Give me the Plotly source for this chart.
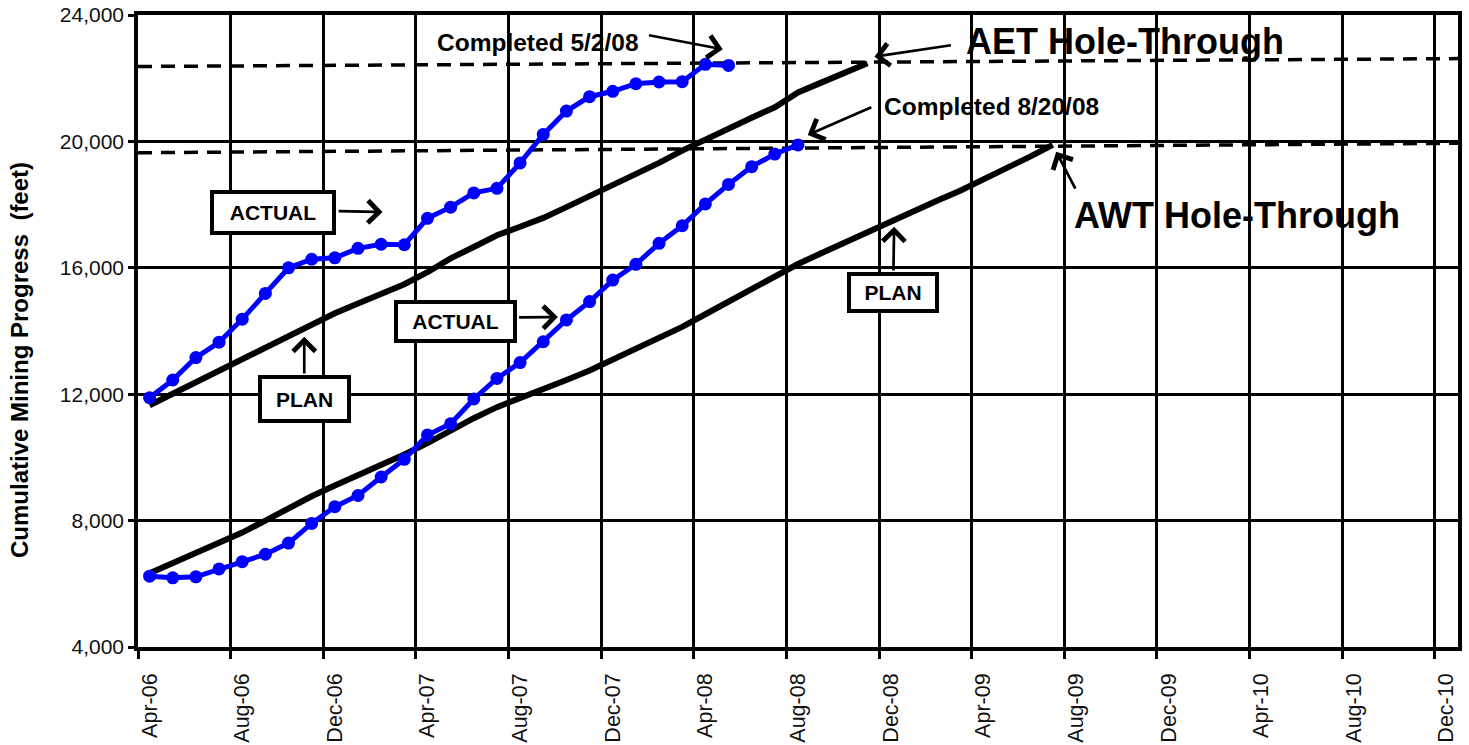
import plotly.graph_objects as go

# ---------------- data ----------------
months = ["Apr-06", "May-06", "Jun-06", "Jul-06", "Aug-06", "Sep-06", "Oct-06", "Nov-06", "Dec-06",
          "Jan-07", "Feb-07", "Mar-07", "Apr-07", "May-07", "Jun-07", "Jul-07", "Aug-07", "Sep-07",
          "Oct-07", "Nov-07", "Dec-07", "Jan-08", "Feb-08", "Mar-08", "Apr-08", "May-08", "Jun-08",
          "Jul-08", "Aug-08", "Sep-08", "Oct-08", "Nov-08", "Dec-08", "Jan-09", "Feb-09", "Mar-09",
          "Apr-09", "May-09", "Jun-09", "Jul-09", "Aug-09", "Sep-09", "Oct-09", "Nov-09", "Dec-09",
          "Jan-10", "Feb-10", "Mar-10", "Apr-10", "May-10", "Jun-10", "Jul-10", "Aug-10", "Sep-10",
          "Oct-10", "Nov-10", "Dec-10"]

# AET (upper) actual and plan, feet
aet_actual = [11890, 12450, 13160, 13645, 14375, 15190, 16000, 16270, 16315, 16615, 16745, 16730,
              17565, 17920, 18370, 18515, 19320, 20220, 20960, 21415, 21585, 21825, 21880, 21890,
              22440, 22405]
aet_plan = [11650, 12020, 12380, 12740, 13100, 13470, 13840, 14200, 14560, 14870, 15170, 15480,
            15860, 16300, 16660, 17030, 17300, 17580, 17920, 18260, 18600, 18940, 19320, 19710,
            20070, 20410, 20750, 21080, 21550, 21860, 22180, 22470]

# AWT (lower) actual and plan, feet
awt_actual = [6240, 6190, 6220, 6470, 6700, 6935, 7290, 7910, 8440, 8795, 9380, 9940, 10710, 11065,
              11850, 12500, 13000, 13660, 14350, 14930, 15610, 16110, 16775, 17330, 18020, 18640,
              19200, 19600, 19890]
awt_plan = [6330, 6640, 6960, 7270, 7620, 8000, 8390, 8770, 9110, 9430, 9760, 10090, 10450, 10850,
            11240, 11590, 11860, 12150, 12450, 12750, 13090, 13440, 13790, 14130, 14530, 14940,
            15350, 15750, 16120, 16460, 16800, 17150, 17480, 17800, 18120, 18440, 18780, 19150,
            19510, 19890]

# hole-through dashed reference lines (left end, right end)
aet_hole_line = [22370, 22620]
awt_hole_line = [19640, 19940]

y_ticks = [4000, 8000, 12000, 16000, 20000, 24000]

# ---------------- figure ----------------
BLUE = "#0000FF"
FONT = "Liberation Sans, Arial, sans-serif"

fig = go.Figure()

# plan lines
fig.add_trace(go.Scatter(x=months[:len(aet_plan)], y=aet_plan, mode="lines",
                         line=dict(color="black", width=6), showlegend=False))
fig.add_trace(go.Scatter(x=months[:len(awt_plan)], y=awt_plan, mode="lines",
                         line=dict(color="black", width=6), showlegend=False))
# actual lines
fig.add_trace(go.Scatter(x=months[:len(aet_actual)], y=aet_actual, mode="lines+markers",
                         line=dict(color=BLUE, width=5), marker=dict(color=BLUE, size=13),
                         showlegend=False))
fig.add_trace(go.Scatter(x=months[:len(awt_actual)], y=awt_actual, mode="lines+markers",
                         line=dict(color=BLUE, width=5), marker=dict(color=BLUE, size=13),
                         showlegend=False))

# dashed hole-through lines across the whole plot width
for vals in (aet_hole_line, awt_hole_line):
    fig.add_shape(type="line", xref="paper", yref="y", x0=0, x1=1, y0=vals[0], y1=vals[1],
                  line=dict(color="black", width=3.5, dash="14px,9px"), layer="between")

# ---------------- annotations ----------------
def box(text, x, y, w, h):
    fig.add_annotation(x=x, y=y, xref="x", yref="y", text="<b>" + text + "</b>", showarrow=False,
                       font=dict(family=FONT, size=21, color="black"), bgcolor="white",
                       bordercolor="black", borderwidth=4, borderpad=0, width=w, height=h,
                       xanchor="center", yanchor="middle")

def label(text, x, y, size):
    fig.add_annotation(x=x, y=y, xref="x", yref="y", text="<b>" + text + "</b>", showarrow=False,
                       font=dict(family=FONT, size=size, color="black"),
                       xanchor="center", yanchor="middle")

def arrow(x0, y0, x1, y1):
    fig.add_annotation(x=x1, y=y1, ax=x0, ay=y0, xref="x", yref="y", axref="x", ayref="y",
                       text="", showarrow=True, arrowhead=4, arrowsize=1.6, arrowwidth=2.7,
                       arrowcolor="black", standoff=0, startstandoff=0)

box("ACTUAL", 5.31, 17749, 118, 37)
box("PLAN", 6.68, 11846, 85, 40)
box("ACTUAL", 13.23, 14299, 115, 35)
box("PLAN", 32.09, 15227, 84, 33)

arrow(8.10, 17796, 10.06, 17765)
arrow(6.68, 12606, 6.68, 13818)
arrow(15.89, 14430, 17.63, 14440)
arrow(32.12, 15866, 32.15, 17300)
arrow(21.5, 23367, 24.75, 22914)
arrow(34.67, 23050, 31.30, 22680)
arrow(31.23, 21098, 28.42, 20202)
arrow(40.01, 18461, 39.15, 19673)

label("Completed 5/2/08", 16.78, 23123, 24.5)
label("AET Hole-Through", 42.1, 23155, 36)
label("Completed 8/20/08", 36.34, 21098, 24.5)
label("AWT Hole-Through", 46.96, 17670, 36)

# y axis title as rotated text
fig.add_annotation(xref="paper", yref="paper", x=-0.0902, y=0.454, textangle=-90,
                   text="<b>Cumulative Mining Progress  (feet)</b>", showarrow=False,
                   font=dict(family=FONT, size=24, color="black"),
                   xanchor="center", yanchor="middle")

fig.update_layout(
    width=1469, height=745,
    margin=dict(l=138, r=11, t=15, b=98, autoexpand=False),
    paper_bgcolor="white", plot_bgcolor="white",
    showlegend=False,
    font=dict(family=FONT, color="black"),
    xaxis=dict(type="category", categoryorder="array", categoryarray=months,
               range=[-0.5, len(months) - 0.5], tickmode="linear", tick0=0, dtick=4,
               tickson="boundaries", ticks="outside", ticklen=8, tickwidth=3, tickcolor="black",
               tickangle=-90, tickfont=dict(family=FONT, size=21.5, color="#111"),
               ticklabelstandoff=14, automargin=False, ticklabeloverflow="allow",
               showgrid=True, gridcolor="black", gridwidth=3,
               showline=True, linecolor="black", linewidth=3.5, mirror=True, zeroline=False),
    yaxis=dict(range=[4000, 24000], tickmode="array", tickvals=y_ticks, tickformat=",",
               ticks="outside", ticklen=6, tickwidth=3, tickcolor="black",
               tickfont=dict(family=FONT, size=21, color="#111"), ticklabelstandoff=0,
               automargin=False, ticklabeloverflow="allow",
               showgrid=True, gridcolor="black", gridwidth=3,
               showline=True, linecolor="black", linewidth=3.5, mirror=True, zeroline=False),
)

# remove the default 8px page margin so the figure fills the window exactly
fig.write_html("out.html",
               config={"displayModeBar": False},
               post_script="document.body.style.margin='0';"
                           "document.documentElement.style.overflow='hidden';")
